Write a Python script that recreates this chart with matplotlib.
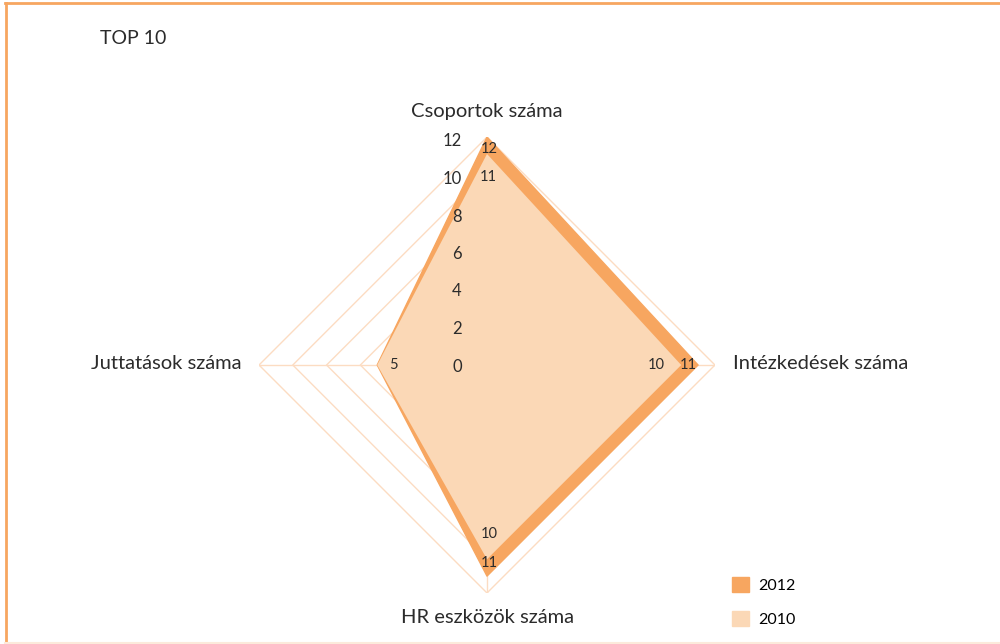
import numpy as np
import matplotlib.pyplot as plt
from matplotlib.patches import Patch
from matplotlib.lines import Line2D

plt.rcParams['font.family'] = ['Lato', 'DejaVu Sans']

# data
categories = ["Csoportok száma", "Intézkedések száma", "HR eszközök száma", "Juttatások száma"]
values_2012 = [12, 11, 11, 5]
values_2010 = [11, 10, 10, 5]
series_names = ["2012", "2010"]
ring_values = [0, 2, 4, 6, 8, 10, 12]
tick_labels = ["0", "2", "4", "6", "8", "10", "12"]

dark = "#F7A660"
light = "#FBD8B6"
ring_col = "#FCDCC2"
txt = "#2b2b2b"

fig = plt.figure(figsize=(10, 6.44), dpi=100)

# polar axes, centre at (487, 365) px, outer radius 228 px
ax = fig.add_axes([0.259, 0.0792, 0.456, 0.708], projection='polar')
ax.set_theta_offset(np.pi / 2)
ax.set_theta_direction(-1)
ax.set_ylim(-1.5, 12)
ax.grid(False)
ax.spines['polar'].set_visible(False)
ax.set_xticks([])
ax.set_yticks([])
ax.patch.set_alpha(0)

angles = np.linspace(0, 2 * np.pi, len(categories), endpoint=False)
closed = np.append(angles, angles[0])

for r in ring_values:
    ax.plot(closed, [r] * len(closed), color=ring_col, lw=1, zorder=1)
for a in angles:
    ax.plot([a, a], [-1.5, 12], color=ring_col, lw=1, zorder=1)

v12 = np.append(values_2012, values_2012[0])
v10 = np.append(values_2010, values_2010[0])
ax.fill(closed, v12, color=dark, lw=0, zorder=2)
ax.plot(closed, v12, color=dark, lw=1, zorder=2)
ax.fill(closed, v10, color=light, lw=0, zorder=3)

# data labels
off12 = [(2, -12), (-10, 0), (2, 13), (16, 0)]
off10 = [(1, -23), (-25, 0), (2, 25), (16, 0)]
for i, a in enumerate(angles):
    ax.annotate(str(values_2012[i]), (a, values_2012[i]), xytext=off12[i],
                textcoords='offset pixels', ha='center', va='center',
                fontsize=10.5, color=txt, zorder=5)
    if values_2010[i] != values_2012[i]:
        ax.annotate(str(values_2010[i]), (a, values_2010[i]), xytext=off10[i],
                    textcoords='offset pixels', ha='center', va='center',
                    fontsize=10.5, color=txt, zorder=5)

# category labels
lab_fs = 14.5
ax.annotate(categories[0], (angles[0], 12), xytext=(0, 26), textcoords='offset pixels',
            ha='center', va='center', fontsize=lab_fs, color=txt, annotation_clip=False)
ax.annotate(categories[1], (angles[1], 12), xytext=(18, 2), textcoords='offset pixels',
            ha='left', va='center', fontsize=lab_fs, color=txt, annotation_clip=False)
ax.annotate(categories[2], (angles[2], 12), xytext=(0, -25), textcoords='offset pixels',
            ha='center', va='center', fontsize=lab_fs, color=txt, annotation_clip=False)
ax.annotate(categories[3], (angles[3], 12), xytext=(-18, 2), textcoords='offset pixels',
            ha='right', va='center', fontsize=lab_fs, color=txt, annotation_clip=False)

# radial tick labels (separate scale, as in the original)
tax = fig.add_axes([0.470, (644 - 365) / 644, 0.0001, 225 / 644])
tax.set_ylim(0, 12)
tax.set_yticks(ring_values)
tax.set_yticklabels(tick_labels, fontsize=12, color=txt)
tax.tick_params(axis='y', length=0, pad=6)
tax.set_xticks([])
for s in tax.spines.values():
    s.set_visible(False)
tax.patch.set_alpha(0)
tax.set_zorder(4)

fig.text(0.100, 1 - 38 / 644, "TOP 10", fontsize=14, color=txt, va='center', ha='left')

handles = [Patch(color=dark), Patch(color=light)]
fig.legend(handles, series_names, loc='upper left', bbox_to_anchor=(0.732, 0.1035),
           frameon=False, fontsize=11.5, handlelength=1.05, handleheight=1.05,
           handletextpad=0.6, labelspacing=1.1, borderpad=0, borderaxespad=0)

# frame
fig.add_artist(Line2D([0.005, 1.0], [1 - 3 / 644, 1 - 3 / 644], color=dark, lw=2,
                      transform=fig.transFigure))
fig.add_artist(Line2D([0.0055, 0.0055], [0, 1 - 3 / 644], color=dark, lw=2,
                      transform=fig.transFigure))
fig.add_artist(Line2D([0.005, 1.0], [1 / 644, 1 / 644], color="#FCEADB", lw=1.5,
                      transform=fig.transFigure))

fig.savefig("out.png", dpi=100)
